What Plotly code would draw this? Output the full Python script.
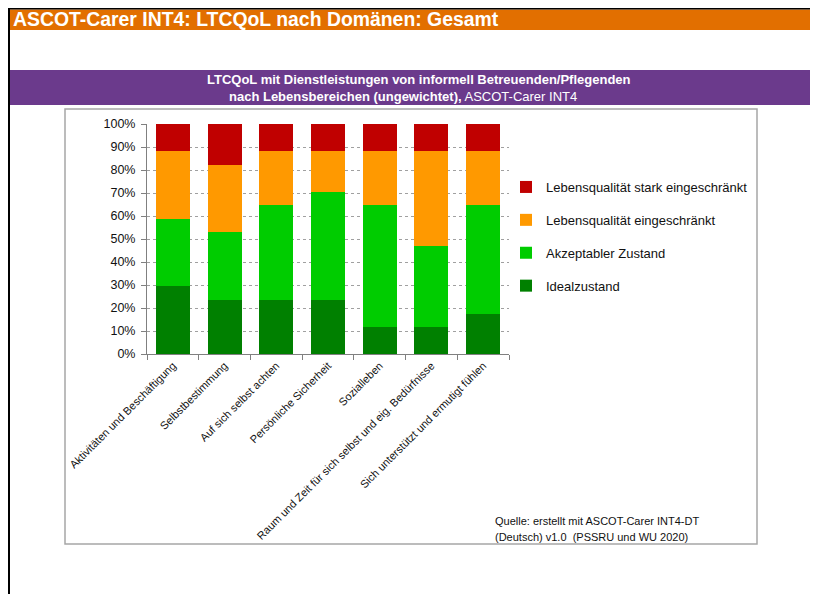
import plotly.graph_objects as go

categories = [
    "Aktivitäten und Beschäftigung",
    "Selbstbestimmung",
    "Auf sich selbst achten",
    "Persönliche Sicherheit",
    "Sozialleben",
    "Raum und Zeit für sich selbst und eig. Bedürfnisse",
    "Sich unterstützt und ermutigt fühlen",
]
ideal = [29.4, 23.5, 23.5, 23.5, 11.8, 11.8, 17.6]
akzeptabel = [29.4, 29.4, 41.2, 47.1, 52.9, 35.3, 47.1]
eingeschraenkt = [29.4, 29.4, 23.5, 17.6, 23.5, 41.2, 23.5]
stark = [11.8, 17.6, 11.8, 11.8, 11.8, 11.8, 11.8]

series_names = ["Idealzustand", "Akzeptabler Zustand",
                "Lebensqualität eingeschränkt", "Lebensqualität stark eingeschränkt"]
series_values = [ideal, akzeptabel, eingeschraenkt, stark]
series_colors = ["#008000", "#00CC00", "#FF9900", "#C00000"]
y_ticks = [0, 10, 20, 30, 40, 50, 60, 70, 80, 90, 100]
y_tick_labels = ["0%", "10%", "20%", "30%", "40%", "50%", "60%", "70%", "80%", "90%", "100%"]

# page offset (browser body margin)
OFF = 8
W, H = 818, 594
L, T = 139, 116
PW, PH = 362, 230
R, B = W - L - PW, H - T - PH

def px(x):
    return (x - OFF - L) / PW

def py(y):
    return ((H - B) - (y - OFF)) / PH

FONT = "Liberation Sans, Arial, sans-serif"

fig = go.Figure()
n = len(series_names)
for i, (name, vals, col) in enumerate(zip(series_names, series_values, series_colors)):
    fig.add_trace(go.Bar(x=categories, y=vals, name=name, legendgroup=name,
                         legendrank=n - i,
                         marker=dict(color=col, line=dict(width=0))))

shapes = [
    dict(type="rect", xref="paper", yref="paper", x0=px(9), x1=px(840), y0=py(30), y1=py(9.5),
         fillcolor="#E26F00", line=dict(width=0), layer="below"),
    dict(type="rect", xref="paper", yref="paper", x0=px(9), x1=px(840), y0=py(105), y1=py(70),
         fillcolor="#6B3A8C", line=dict(width=0), layer="below"),
    dict(type="line", xref="paper", yref="paper", x0=px(9), x1=px(9), y0=py(8), y1=py(620),
         line=dict(color="#000000", width=2)),
    dict(type="line", xref="paper", yref="paper", x0=px(8), x1=px(840), y0=py(8.8), y1=py(8.8),
         line=dict(color="#000000", width=1.6)),
    dict(type="rect", xref="paper", yref="paper", x0=px(65), x1=px(757), y0=py(544), y1=py(109),
         fillcolor="rgba(0,0,0,0)", line=dict(color="#A6A6A6", width=1.5), layer="below"),
]

annotations = [
    dict(text="<b>ASCOT-Carer INT4: LTCQoL nach Domänen: Gesamt</b>", xref="paper", yref="paper",
         x=px(11), y=py(19), xanchor="left", yanchor="middle", showarrow=False,
         font=dict(family=FONT, size=19.4, color="#FFFFFF")),
    dict(text="<b>LTCQoL mit Dienstleistungen von informell Betreuenden/Pflegenden</b>",
         xref="paper", yref="paper", x=px(419), y=py(79), xanchor="center", yanchor="middle",
         showarrow=False, font=dict(family=FONT, size=13, color="#FFFFFF")),
    dict(text="<b>nach Lebensbereichen (ungewichtet),</b> ASCOT-Carer INT4",
         xref="paper", yref="paper", x=px(403), y=py(96), xanchor="center", yanchor="middle",
         showarrow=False, font=dict(family=FONT, size=13, color="#FFFFFF")),
    dict(text="Quelle: erstellt mit ASCOT-Carer INT4-DT", xref="paper", yref="paper",
         x=px(493), y=py(521), xanchor="left", yanchor="middle", showarrow=False,
         font=dict(family=FONT, size=11, color="#111111")),
    dict(text="(Deutsch) v1.0  (PSSRU und WU 2020)", xref="paper", yref="paper",
         x=px(493), y=py(537), xanchor="left", yanchor="middle", showarrow=False,
         font=dict(family=FONT, size=11, color="#111111")),
]

fig.update_layout(
    width=W, height=H,
    margin=dict(l=L, r=R, t=T, b=B, pad=0),
    barmode="stack", bargap=0.34,
    paper_bgcolor="#FFFFFF", plot_bgcolor="#FFFFFF",
    font=dict(family=FONT, size=12, color="#111111"),
    shapes=shapes, annotations=annotations,
    showlegend=True,
    legend=dict(x=px(506), y=py(172), xanchor="left", yanchor="top",
                traceorder="grouped", tracegroupgap=13,
                font=dict(family=FONT, size=13, color="#111111"),
                bgcolor="rgba(0,0,0,0)"),
    xaxis=dict(type="category", tickson="boundaries", ticks="outside", ticklen=5,
               tickcolor="#808080", showline=True, linecolor="#808080", linewidth=1,
               showgrid=False, tickangle=-45,
               tickfont=dict(family=FONT, size=11, color="#111111"), fixedrange=True),
    yaxis=dict(range=[0, 100], tickmode="array", tickvals=y_ticks, ticktext=y_tick_labels,
               ticks="outside", ticklen=5, ticklabelstandoff=3,
               tickcolor="#808080", showline=True, linecolor="#808080", linewidth=1,
               showgrid=True, gridcolor="#A0A0A0", griddash="dot", gridwidth=1,
               tickfont=dict(family=FONT, size=12.5, color="#111111"), zeroline=False,
               fixedrange=True),
)

fig.write_html("out.html")
